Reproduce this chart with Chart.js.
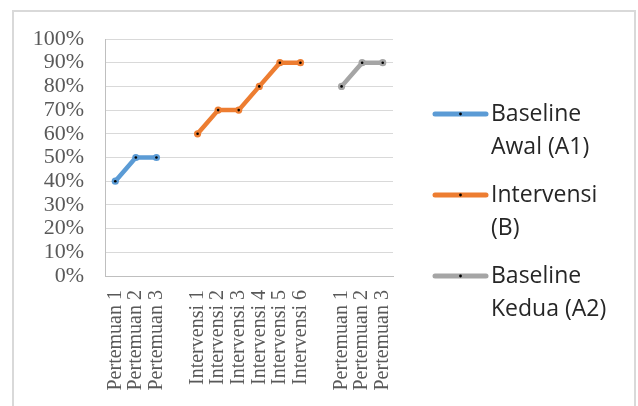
<!DOCTYPE html>
<html>
<head>
<meta charset="utf-8">
<script src="https://cdn.jsdelivr.net/npm/chart.js@4.4.1/dist/chart.umd.min.js"></script>
<style>
  html, body { margin: 0; padding: 0; background: #fff; }
  canvas { display: block; }
</style>
</head>
<body>
<canvas id="c" width="638" height="406"></canvas>
<script>
// Categories: three phases separated by an empty slot
const categories = [
  'Pertemuan 1', 'Pertemuan 2', 'Pertemuan 3', '',
  'Intervensi 1', 'Intervensi 2', 'Intervensi 3', 'Intervensi 4', 'Intervensi 5', 'Intervensi 6', '',
  'Pertemuan 1', 'Pertemuan 2', 'Pertemuan 3'
];

// Percentages per phase (null = not part of that phase)
const baselineAwal = [40, 50, 50, null, null, null, null, null, null, null, null, null, null, null];
const intervensi   = [null, null, null, null, 60, 70, 70, 80, 90, 90, null, null, null, null];
const baselineKedua = [null, null, null, null, null, null, null, null, null, null, null, 80, 90, 90];

const seriesNames = ['Baseline\nAwal (A1)', 'Intervensi\n(B)', 'Baseline\nKedua (A2)'];
const seriesColors = ['#5b9bd5', '#ed7d31', '#a5a5a5'];

const yTicks = [0, 10, 20, 30, 40, 50, 60, 70, 80, 90, 100];

function lineDataset(label, data, color) {
  return {
    label: label,
    data: data,
    borderColor: color,
    backgroundColor: color,
    borderWidth: 4.5,
    borderCapStyle: 'round',
    borderJoinStyle: 'round',
    pointRadius: 3.6,
    pointBorderWidth: 0,
    pointBackgroundColor: color,
    spanGaps: false,
    tension: 0
  };
}

// White background and the light frame around the figure
const framePlugin = {
  id: 'frame',
  beforeDraw(chart) {
    const ctx = chart.ctx;
    ctx.save();
    ctx.fillStyle = '#ffffff';
    ctx.fillRect(0, 0, chart.width, chart.height);
    ctx.strokeStyle = '#d9d9d9';
    ctx.lineWidth = 2;
    ctx.strokeRect(13, 11, 622, 420);
    ctx.restore();
  }
};

// Small black dot in the middle of every marker
const dotPlugin = {
  id: 'dots',
  afterDatasetsDraw(chart) {
    const ctx = chart.ctx;
    ctx.save();
    ctx.fillStyle = '#000';
    chart.data.datasets.forEach((ds, i) => {
      const meta = chart.getDatasetMeta(i);
      meta.data.forEach((pt, j) => {
        if (ds.data[j] === null || pt.skip) return;
        ctx.beginPath();
        ctx.arc(pt.x, pt.y, 1.3, 0, Math.PI * 2);
        ctx.fill();
      });
    });
    ctx.restore();
  }
};

// Legend on the right with two-line labels
const legendPlugin = {
  id: 'sideLegend',
  afterDraw(chart) {
    const ctx = chart.ctx;
    const x0 = 435, x1 = 486, tx = 491;
    const firstRow = 114, rowStep = 81, lineGap = 33;
    ctx.save();
    ctx.font = '23px "Open Sans"';
    ctx.textBaseline = 'middle';
    ctx.textAlign = 'left';
    chart.data.datasets.forEach((ds, i) => {
      const y = firstRow + i * rowStep;
      ctx.strokeStyle = ds.borderColor;
      ctx.lineWidth = 5;
      ctx.lineCap = 'round';
      ctx.beginPath();
      ctx.moveTo(x0, y);
      ctx.lineTo(x1, y);
      ctx.stroke();
      ctx.fillStyle = '#000';
      ctx.beginPath();
      ctx.arc((x0 + x1) / 2, y, 1.4, 0, Math.PI * 2);
      ctx.fill();
      ctx.fillStyle = '#262626';
      ds.label.split('\n').forEach((line, k) => {
        ctx.fillText(line, tx, y + k * lineGap);
      });
    });
    ctx.restore();
  }
};

new Chart(document.getElementById('c'), {
  type: 'line',
  data: {
    labels: categories,
    datasets: [
      lineDataset(seriesNames[0], baselineAwal, seriesColors[0]),
      lineDataset(seriesNames[1], intervensi, seriesColors[1]),
      lineDataset(seriesNames[2], baselineKedua, seriesColors[2])
    ]
  },
  options: {
    responsive: false,
    animation: false,
    devicePixelRatio: 1,
    layout: { padding: { top: 39, right: 245, left: 0, bottom: 0 } },
    plugins: { legend: { display: false }, tooltip: { enabled: false } },
    scales: {
      x: {
        offset: true,
        grid: { display: false, drawTicks: false },
        border: { display: true, color: '#bfbfbf', width: 1 },
        ticks: {
          autoSkip: false,
          minRotation: 90,
          maxRotation: 90,
          padding: 14,
          color: '#595959',
          font: { family: '"Liberation Serif"', size: 20 }
        },
        afterFit(scale) { scale.height = 130; }
      },
      y: {
        min: 0,
        max: 100,
        afterBuildTicks(scale) { scale.ticks = yTicks.map(v => ({ value: v })); },
        grid: { color: '#d9d9d9', lineWidth: 1, drawTicks: false },
        border: { display: true, color: '#bfbfbf', width: 1 },
        ticks: {
          autoSkip: false,
          padding: 21,
          color: '#595959',
          font: { family: '"Liberation Serif"', size: 22 },
          callback: v => v + '%'
        },
        afterFit(scale) { scale.width = 105; }
      }
    }
  },
  plugins: [framePlugin, dotPlugin, legendPlugin]
});
</script>
</body>
</html>
